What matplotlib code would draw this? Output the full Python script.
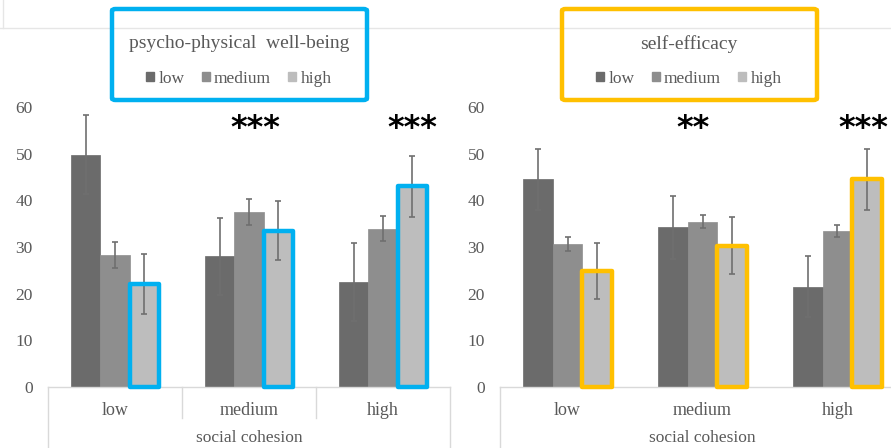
import matplotlib
matplotlib.use("Agg")
import matplotlib.pyplot as plt
from matplotlib.patches import Rectangle, FancyBboxPatch, Patch
from matplotlib.lines import Line2D
import matplotlib.transforms as mtransforms

# Social cohesion groups on the x axis
cohesion = ["low", "medium", "high"]
levels = ["low", "medium", "high"]

# Psycho-physical well-being: mean and error per outcome level, per cohesion group
wellbeing_low = [49.8, 28.0, 22.5]
wellbeing_medium = [28.3, 37.5, 33.9]
wellbeing_high = [22.0, 33.5, 43.0]
wellbeing_err_low = [8.4, 8.3, 8.3]
wellbeing_err_medium = [2.7, 2.8, 2.7]
wellbeing_err_high = [6.4, 6.3, 6.5]

# Self-efficacy: mean and error per outcome level, per cohesion group
efficacy_low = [44.5, 34.2, 21.5]
efficacy_medium = [30.7, 35.4, 33.5]
efficacy_high = [24.8, 30.3, 44.5]
efficacy_err_low = [6.6, 6.7, 6.6]
efficacy_err_medium = [1.5, 1.4, 1.3]
efficacy_err_high = [6.0, 6.1, 6.5]

# Significance markers: (cohesion position, text)
wellbeing_sig = [(1.05, "***"), (2.22, "***")]
efficacy_sig = [(0.93, "**"), (2.19, "***")]

bar_colors = ["#6b6b6b", "#8e8e8e", "#bdbdbd"]
text_gray = "#595959"
serif = ["Liberation Serif", "DejaVu Serif"]

fig = plt.figure(figsize=(8.91, 4.48), dpi=100)
W, H = 891, 448


def px_axes(x0, x1, y_top, y_zero):
    return fig.add_axes([x0 / W, (H - y_zero) / H, (x1 - x0) / W, (y_zero - y_top) / H])


def draw_panel(ax, series, errors, highlight, sig, separators):
    width = 0.22
    offsets = [-width, 0.0, width]
    xs = list(range(len(cohesion)))
    for i, (vals, errs) in enumerate(zip(series, errors)):
        pos = [x + offsets[i] for x in xs]
        ax.bar(pos, vals, width=width, color=bar_colors[i], edgecolor=bar_colors[i],
               linewidth=0.5, zorder=2)
        ax.errorbar(pos, vals, yerr=errs, fmt="none", ecolor="#6f6f6f",
                    elinewidth=1.2, capsize=2, capthick=1.2, zorder=3)
    # highlight frame around the "high" bar of every group
    for x, v in zip(xs, series[2]):
        ax.add_patch(Rectangle((x + offsets[2] - width / 2, 0), width, v, fill=False,
                               edgecolor=highlight, linewidth=3.2, joinstyle="round",
                               zorder=4, clip_on=False))
    for x, s in sig:
        ax.text(x, 55.4, s, ha="center", va="center", fontsize=23, color="black",
                family="DejaVu Sans", fontweight="bold", zorder=5, clip_on=False)

    ax.set_xlim(-0.5, 2.5)
    ax.set_ylim(0, 60)
    ax.set_yticks(range(0, 61, 10))
    ax.set_yticklabels([str(v) for v in range(0, 61, 10)], family=serif,
                       fontsize=12.5, color=text_gray)
    ax.tick_params(axis="y", length=0, pad=11)
    ax.set_xticks(xs)
    ax.set_xticklabels(cohesion, family=serif, fontsize=13, color=text_gray)
    ax.tick_params(axis="x", length=0, pad=11)
    ax.set_xlabel("social cohesion", family=serif, fontsize=12.5, color=text_gray,
                  labelpad=8)
    for side in ["top", "right", "left"]:
        ax.spines[side].set_visible(False)
    ax.spines["bottom"].set_color("#d9d9d9")
    ax.spines["bottom"].set_linewidth(1.0)
    ax.set_facecolor("none")

    # category frame below the axis
    trans = mtransforms.blended_transform_factory(ax.transData, ax.transAxes)
    for xv in [-0.5, 2.5]:
        ax.add_line(Line2D([xv, xv], [0, -0.25], transform=trans, color="#d9d9d9",
                           lw=1.0, clip_on=False))
    if separators:
        for xv in [0.5, 1.5]:
            ax.add_line(Line2D([xv, xv], [0, -0.112], transform=trans, color="#d9d9d9",
                               lw=1.0, clip_on=False))


def legend_box(cx, title, edge, x0, x1):
    handles = [Patch(facecolor=c, edgecolor=c) for c in bar_colors]
    leg = fig.legend(handles, levels, ncol=3, loc="center",
                     bbox_to_anchor=(cx / W, (H - 61) / H), frameon=False,
                     title=title, handlelength=0.45, handleheight=0.45,
                     handletextpad=0.25, columnspacing=1.0, borderaxespad=0,
                     prop={"family": serif, "size": 12.5},
                     title_fontproperties={"family": serif, "size": 14})
    leg.get_title().set_color(text_gray)
    leg._legend_box.sep = 13
    for t in leg.get_texts():
        t.set_color(text_gray)
    fig.patches.append(FancyBboxPatch((x0 / W, (H - 100) / H), (x1 - x0) / W, 91 / H,
                                      boxstyle="round,pad=0,rounding_size=0.004",
                                      transform=fig.transFigure, facecolor="none",
                                      edgecolor=edge, linewidth=3.2, zorder=10))


# faint page frame at the top
fig.add_artist(Line2D([0, 1], [(H - 28) / H, (H - 28) / H], transform=fig.transFigure,
                      color="#e6e6e6", lw=1.0))
fig.add_artist(Line2D([3 / W, 3 / W], [(H - 28) / H, 1], transform=fig.transFigure,
                      color="#e6e6e6", lw=1.0))
# white fill behind the legend boxes
for x0, x1 in [(112, 367), (562, 817)]:
    fig.patches.append(Rectangle((x0 / W, (H - 100) / H), (x1 - x0) / W, 91 / H,
                                 transform=fig.transFigure, facecolor="white",
                                 edgecolor="none", zorder=1))

ax1 = px_axes(48, 450, 107, 387)
draw_panel(ax1, [wellbeing_low, wellbeing_medium, wellbeing_high],
           [wellbeing_err_low, wellbeing_err_medium, wellbeing_err_high],
           "#00b0f0", wellbeing_sig, True)

ax2 = px_axes(500, 905, 107, 387)
draw_panel(ax2, [efficacy_low, efficacy_medium, efficacy_high],
           [efficacy_err_low, efficacy_err_medium, efficacy_err_high],
           "#ffc000", efficacy_sig, False)

legend_box(239, "psycho-physical  well-being", "#00b0f0", 112, 367)
legend_box(689, "self-efficacy", "#ffc000", 562, 817)

fig.savefig("out.png", dpi=100)
